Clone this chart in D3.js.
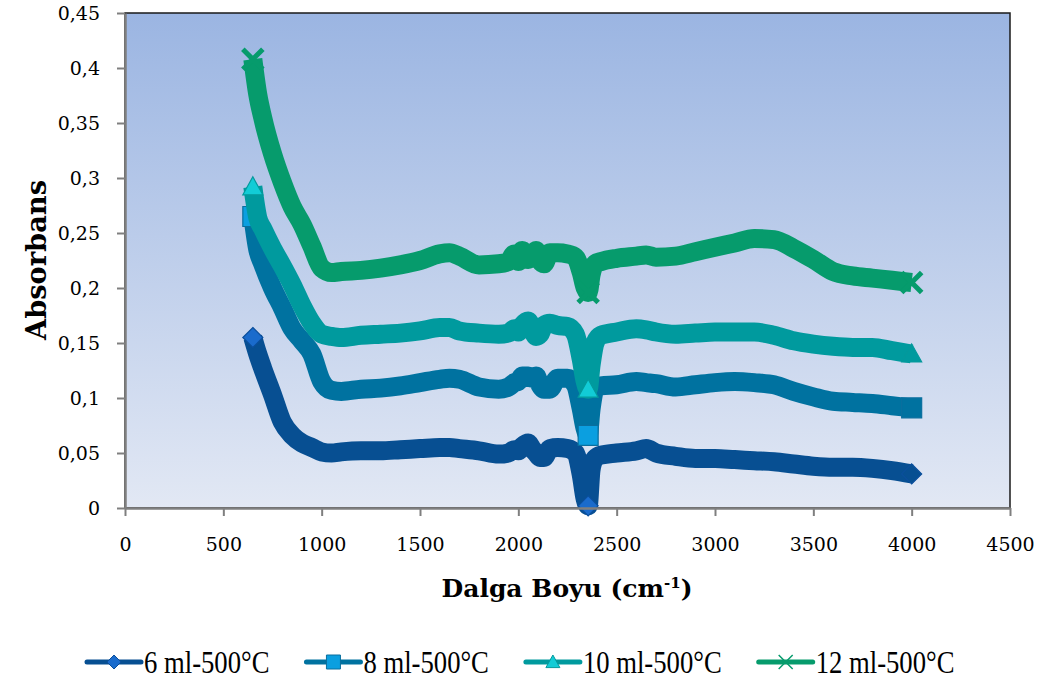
<!DOCTYPE html>
<html>
<head>
<meta charset="utf-8">
<script src="https://cdn.jsdelivr.net/npm/d3@7"></script>
<style>
  body { margin: 0; background: #fff; }
  svg { display: block; }
</style>
</head>
<body>
<svg id="chart" width="1050" height="681"></svg>
<script>
// wavenumbers (cm-1) shared by all series
let wave = [650, 675, 700, 750, 800, 850, 900, 950, 1000, 1050,
  1100, 1200, 1300, 1400, 1500, 1600, 1650, 1700, 1800, 1900,
  1950, 1980, 2000, 2020, 2050, 2070, 2090, 2110, 2130, 2160,
  2200, 2250, 2290, 2320, 2340, 2355, 2370, 2390, 2420, 2500,
  2600, 2650, 2700, 2800, 2900, 3000, 3100, 3200, 3300, 3400,
  3500, 3600, 3700, 3800, 3900, 4000];

let ml6 = [0.155, 0.14, 0.127, 0.103, 0.078, 0.066, 0.059, 0.055, 0.051, 0.05,
  0.051, 0.052, 0.052, 0.053, 0.054, 0.055, 0.055, 0.054, 0.052, 0.049,
  0.05, 0.053, 0.052, 0.056, 0.059, 0.054, 0.05, 0.046, 0.046, 0.054,
  0.055, 0.054, 0.05, 0.03, 0.008, 0.002, 0.035, 0.045, 0.048, 0.05,
  0.052, 0.054, 0.05, 0.047, 0.045, 0.045, 0.044, 0.043, 0.042, 0.04,
  0.038, 0.037, 0.037, 0.036, 0.034, 0.031];

let ml8 = [0.265, 0.235, 0.222, 0.2, 0.182, 0.163, 0.152, 0.14, 0.115, 0.107,
  0.106, 0.108, 0.109, 0.111, 0.114, 0.117, 0.118, 0.117, 0.11, 0.108,
  0.11, 0.114, 0.115, 0.12, 0.12, 0.118, 0.12, 0.112, 0.108, 0.108,
  0.118, 0.118, 0.112, 0.09, 0.072, 0.066, 0.09, 0.108, 0.111, 0.112,
  0.115, 0.114, 0.113, 0.11, 0.112, 0.114, 0.115, 0.114, 0.112, 0.106,
  0.101, 0.097, 0.096, 0.095, 0.093, 0.091];

let ml10 = [0.292, 0.264, 0.254, 0.236, 0.22, 0.203, 0.184, 0.168, 0.158, 0.156,
  0.155, 0.157, 0.158, 0.159, 0.161, 0.164, 0.164, 0.161, 0.159, 0.158,
  0.159, 0.163, 0.16, 0.166, 0.17, 0.163, 0.156, 0.158, 0.166, 0.168,
  0.166, 0.165, 0.158, 0.135, 0.115, 0.108, 0.13, 0.15, 0.157, 0.16,
  0.163, 0.162, 0.16, 0.158, 0.159, 0.16, 0.16, 0.16, 0.157, 0.152,
  0.149, 0.147, 0.146, 0.146, 0.143, 0.14];

let ml12 = [0.408, 0.376, 0.355, 0.322, 0.296, 0.274, 0.258, 0.238, 0.218, 0.214,
  0.215, 0.216, 0.218, 0.221, 0.225, 0.231, 0.232, 0.229, 0.221, 0.222,
  0.224, 0.231, 0.224, 0.234, 0.226, 0.229, 0.234, 0.225, 0.222, 0.232,
  0.232, 0.231, 0.228, 0.214, 0.2, 0.196, 0.212, 0.222, 0.224, 0.227,
  0.229, 0.23, 0.228, 0.229, 0.233, 0.237, 0.241, 0.245, 0.244, 0.236,
  0.226, 0.215, 0.211, 0.209, 0.207, 0.205];

let seriesNames = ["6 ml-500°C", "8 ml-500°C", "10 ml-500°C", "12 ml-500°C"];
let xTicks = [0, 500, 1000, 1500, 2000, 2500, 3000, 3500, 4000, 4500];
let yTicks = [0, 0.05, 0.1, 0.15, 0.2, 0.25, 0.3, 0.35, 0.4, 0.45];

let series = [
  { name: seriesNames[0], values: ml6, line: "#074f92", fill: "#1a6bcc", edge: "#0b4f9c", shape: "diamond" },
  { name: seriesNames[1], values: ml8, line: "#0072a0", fill: "#0b9fe0", edge: "#0a6f9e", shape: "square" },
  { name: seriesNames[2], values: ml10, line: "#009a9e", fill: "#12ccd6", edge: "#04999c", shape: "triangle" },
  { name: seriesNames[3], values: ml12, line: "#069b6c", fill: "#069b6c", edge: "#069b6c", shape: "x" }
];

let plotLeft = 125, plotRight = 1010, plotTop = 13, plotBottom = 508;

let svg = d3.select("#chart");

let x = d3.scaleLinear().domain([0, 4500]).range([plotLeft, plotRight]);
let y = d3.scaleLinear().domain([0, 0.45]).range([plotBottom, plotTop]);

// background gradient
let grad = svg.append("defs").append("linearGradient")
  .attr("id", "bg").attr("x1", 0).attr("y1", 0).attr("x2", 0).attr("y2", 1);
grad.append("stop").attr("offset", "0%").attr("stop-color", "#9bb5e2");
grad.append("stop").attr("offset", "100%").attr("stop-color", "#e2e8f4");

svg.append("rect")
  .attr("x", plotLeft).attr("y", plotTop)
  .attr("width", plotRight - plotLeft).attr("height", plotBottom - plotTop)
  .style("fill", "url(#bg)")
  .style("stroke", "#1a1a1a")
  .style("stroke-width", 1.5);

function markerPath(shape, r) {
  if (shape == "diamond") return `M0,${-r}L${r},0L0,${r}L${-r},0Z`;
  if (shape == "square") return `M${-r},${-r}H${r}V${r}H${-r}Z`;
  if (shape == "triangle") return `M0,${-r}L${r},${r * 0.8}L${-r},${r * 0.8}Z`;
  return `M${-r},${-r}L${r},${r}M${r},${-r}L${-r},${r}`;
}

let line = d3.line()
  .x((d, i) => x(wave[i]))
  .y(d => y(d))
  .curve(d3.curveMonotoneX);

let plot = svg.append("g");

series.forEach(s => {
  plot.append("path")
    .datum(s.values)
    .attr("d", line)
    .style("fill", "none")
    .style("stroke", s.line)
    .style("stroke-width", 19)
    .style("stroke-linejoin", "round");

  // markers at the start, at the 2350 dip and at the end
  let minIdx = wave.indexOf(2355);
  let picks = [
    { i: 0, fill: s.fill },
    { i: minIdx, fill: s.fill },
    { i: wave.length - 1, fill: s.line }
  ];
  picks.forEach(p => {
    let m = plot.append("path")
      .attr("transform", `translate(${x(wave[p.i])},${y(s.values[p.i])})`)
      .attr("d", markerPath(s.shape, 10));
    if (s.shape == "x") {
      m.style("fill", "none").style("stroke", s.line).style("stroke-width", 5);
    } else {
      m.style("fill", p.fill).style("stroke", s.edge).style("stroke-width", 1.2);
    }
  });
});

// axes
let xAxis = svg.append("g")
  .attr("transform", `translate(0,${plotBottom})`)
  .call(d3.axisBottom(x).tickValues(xTicks).tickSize(8).tickSizeOuter(0)
    .tickFormat(d3.format("d")));
xAxis.select(".domain").style("stroke", "#7f7f7f").style("stroke-width", 2.5);
xAxis.selectAll(".tick line").style("stroke", "#7f7f7f").style("stroke-width", 2);
xAxis.selectAll(".tick text")
  .attr("y", 43).attr("dy", null)
  .style("font-family", "DejaVu Serif")
  .style("font-size", "19px")
  .style("fill", "#000");

let yAxis = svg.append("g")
  .attr("transform", `translate(${plotLeft},0)`)
  .call(d3.axisLeft(y).tickValues(yTicks).tickSize(8).tickSizeOuter(0)
    .tickFormat(d => String(+d.toFixed(2)).replace(".", ",")));
yAxis.select(".domain").style("stroke", "#7f7f7f").style("stroke-width", 2.5);
yAxis.selectAll(".tick line").style("stroke", "#7f7f7f").style("stroke-width", 2);
yAxis.selectAll(".tick text")
  .attr("x", -25)
  .style("font-family", "DejaVu Serif")
  .style("font-size", "19px")
  .style("fill", "#000");

// axis titles
svg.append("text")
  .attr("transform", "translate(46,260) rotate(-90)")
  .attr("text-anchor", "middle")
  .attr("textLength", 160)
  .attr("lengthAdjust", "spacingAndGlyphs")
  .style("font-family", "DejaVu Serif")
  .style("font-weight", "bold")
  .style("font-size", "27px")
  .text("Absorbans");

let xt = svg.append("text")
  .attr("x", 567)
  .attr("y", 597)
  .attr("text-anchor", "middle")
  .style("font-family", "DejaVu Serif")
  .style("font-weight", "bold")
  .style("font-size", "25px");
xt.append("tspan").text("Dalga Boyu (cm");
xt.append("tspan").attr("baseline-shift", "super").style("font-size", "15px").text("-1");
xt.append("tspan").text(")");

// legend
let legend = svg.append("g");
let lx = 87;
series.forEach(s => {
  let g = legend.append("g").attr("transform", `translate(${lx},662)`);
  g.append("line")
    .attr("x1", 0).attr("x2", 54)
    .style("stroke", s.line)
    .style("stroke-width", 5)
    .style("stroke-linecap", "round");
  let m = g.append("path")
    .attr("transform", "translate(27,0)")
    .attr("d", markerPath(s.shape, 7));
  if (s.shape == "x") {
    m.style("fill", "none").style("stroke", s.line).style("stroke-width", 1.5);
  } else {
    m.style("fill", s.fill).style("stroke", s.edge).style("stroke-width", 1);
  }
  let t = g.append("text")
    .attr("x", 57)
    .attr("y", 11)
    .style("font-family", "Liberation Serif")
    .style("font-size", "31px")
    .text(s.name);
  let w = t.node().getComputedTextLength() * 0.86;
  t.attr("textLength", w).attr("lengthAdjust", "spacingAndGlyphs");
  lx += 57 + w + 37;
});
</script>
</body>
</html>
